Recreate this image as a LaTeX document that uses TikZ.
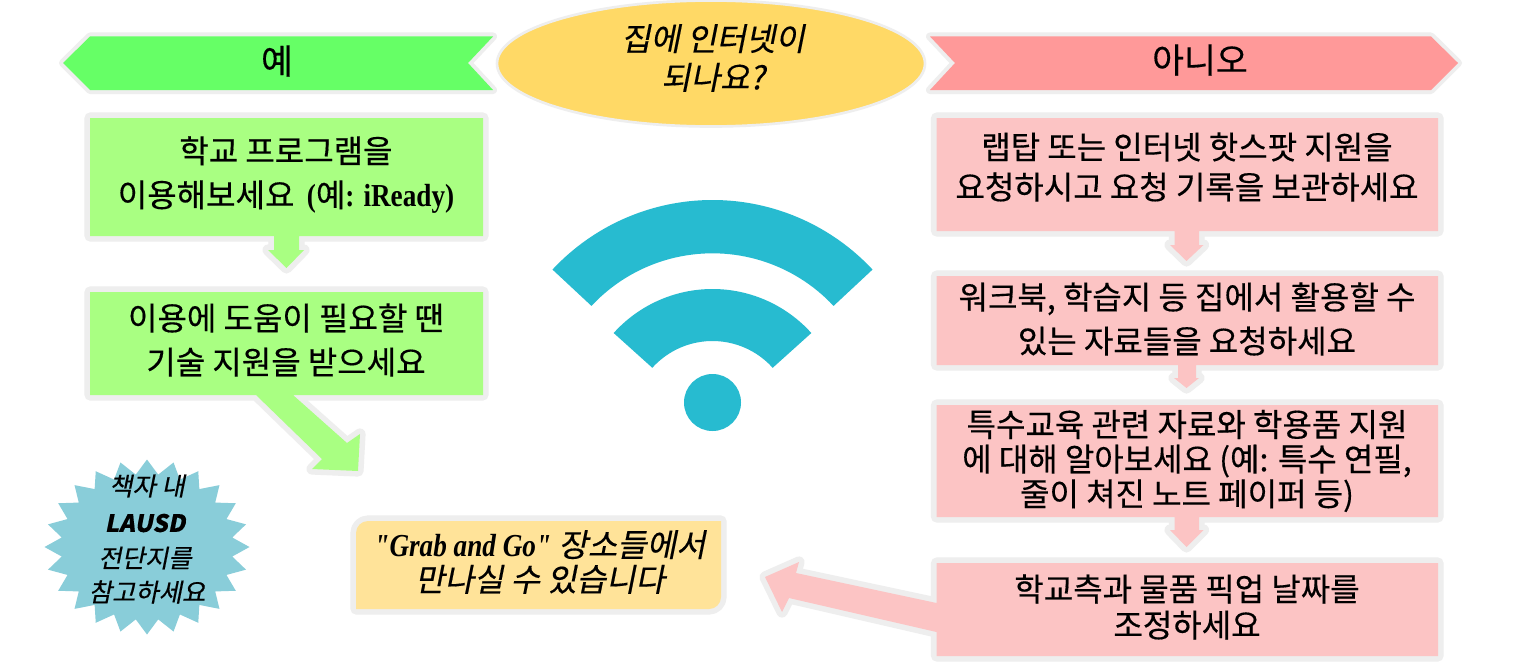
\documentclass[tikz,border=0pt]{standalone}
\usepackage{fontspec}
\setmainfont{Liberation Serif}
\newfontfamily\kr[FakeBold=0.4]{Noto Sans CJK KR}
\newfontfamily\krit[FakeSlant=0.2,FakeBold=0.4]{Noto Sans CJK KR}
\newfontfamily\latn[FakeStretch=0.85]{Liberation Serif}
\definecolor{edgegray}{HTML}{EEEEEE}
\definecolor{gfill}{HTML}{A9FF82}
\definecolor{gbright}{HTML}{66FF66}
\definecolor{rbright}{HTML}{FF9999}
\definecolor{rfill}{HTML}{FCC4C4}
\definecolor{yfill}{HTML}{FFD966}
\definecolor{ybox}{HTML}{FFE399}
\definecolor{starc}{HTML}{89CDD9}
\definecolor{wific}{HTML}{27BBD0}
\tikzset{
 x=0.75pt,y=-0.75pt,
 thickedge/.style={preaction={draw=edgegray,line width=8.4pt,line join=round}},
 thinedge/.style={preaction={draw=edgegray,line width=6pt,line join=round}},
 lab/.style={align=center,font=\kr\fontsize{24}{33}\selectfont,text=black,inner sep=0pt},
 labit/.style={align=center,font=\krit\fontsize{24}{26}\selectfont,text=black,inner sep=0pt},
 starit/.style={align=center,font=\krit\fontsize{19}{26}\selectfont,text=black,inner sep=0pt},
}
\begin{document}
\begin{tikzpicture}
\useasboundingbox (0,0) rectangle (1519,667);
\fill[white] (0,0) rectangle (1519,667);
% wifi
\fill[wific] (712.5,418.8) ++(-137:218.8) arc[start angle=-137,end angle=-43,radius=218.8] -- ++(137:53.3) arc[start angle=-43,end angle=-137,radius=165.5] -- cycle;
\fill[wific] (712.5,422) ++(-138:133) arc[start angle=-138,end angle=-42,radius=133] -- ++(138:52) arc[start angle=-42,end angle=-138,radius=81] -- cycle;
\fill[wific] (712.5,402.5) circle[radius=28.5];
% top
\path[thinedge,fill=gbright] (63,63) -- (90,36.5) -- (493,36.5) -- (468,63) -- (493,90) -- (90,90) -- cycle;
\node[lab,font=\kr\fontsize{26}{33}\selectfont] (yes) at (277,61) {예};
\path[draw=edgegray,line width=2pt,fill=yfill] (711,63.5) ellipse[x radius=214,y radius=63];
\node[labit,font=\krit\fontsize{24}{29}\selectfont] (q) at (713,58) {집에 인터넷이\\되나요?};
\path[thinedge,fill=rbright] (930,36.5) -- (1431,36.5) -- (1458,63) -- (1431,90) -- (930,90) -- (955,63) -- cycle;
\node[lab,font=\kr\fontsize{26}{33}\selectfont] (no) at (1200,60) {아니오};
% left column
\path[thickedge,fill=gfill] (90,118) -- (483,118) -- (483,236) -- (299,236) -- (299,250) -- (304,250) -- (286.5,268) -- (268,250) -- (274,250) -- (274,236) -- (90,236) -- cycle;
\node[lab] (g1a) at (286,175) {학교 프로그램을\\이용해보세요 \,{\latn\bfseries(}예{\latn\bfseries: iReady)}};
\path[thickedge,fill=gfill] (90,292) -- (483,292) -- (483,395) -- (293,395) -- (347,443) -- (360,434) -- (358,471) -- (312,469) -- (322,459) -- (256,395) -- (90,395) -- cycle;
\node[lab] (g2a) at (286,340) {이용에 도움이 필요할 땐\\기술 지원을 받으세요};
% star
\fill[starc] plot[samples at={0,...,47}] ({147+(mod(\x,2)==0?102.5:86)*cos(\x*7.5)},{547+(mod(\x,2)==0?87.5:73)*sin(\x*7.5)}) -- cycle;
\node[starit] (s1) at (147,486) {책자 내};
\node[starit,font=\krit\bfseries\fontsize{18}{26}\selectfont] (s2) at (145,523) {LAUSD};
\node[starit] (s3) at (145,558) {전단지를};
\node[starit] (s4) at (147,592) {참고하세요};
% yellow
\path[thickedge,fill=ybox] (368,521) -- (721,521) -- (721,597) arc[start angle=0,end angle=90,radius=12] -- (356,609) -- (356,533) arc[start angle=180,end angle=270,radius=12] -- cycle;
\node[labit] (gg) at (540,562) {{\latn\bfseries\itshape\char34 Grab and Go\char34} 장소들에서\\만나실 수 있습니다};
% right column
\path[thickedge,fill=rfill] (936.5,118) -- (1438,118) -- (1438,231) -- (1199,231) -- (1199,245) -- (1203.5,245) -- (1186.5,261) -- (1170,245) -- (1174.5,245) -- (1174.5,231) -- (936.5,231) -- cycle;
\node[lab,font=\kr\fontsize{24}{30}\selectfont] (r1a) at (1187,167) {랩탑 또는 인터넷 핫스팟 지원을\\요청하시고 요청 기록을 보관하세요};
\path[thickedge,fill=rfill] (936.5,276) -- (1438,276) -- (1438,365) -- (1196,365) -- (1196,378) -- (1199,378) -- (1186.5,388) -- (1174,378) -- (1178,378) -- (1178,365) -- (936.5,365) -- cycle;
\node[lab] (r2a) at (1187,319) {워크북, 학습지 등 집에서 활용할 수\\있는 자료들을 요청하세요};
\path[thickedge,fill=rfill] (936.5,405) -- (1438,405) -- (1438,517) -- (1199,517) -- (1199,530) -- (1203.5,530) -- (1186.5,547) -- (1170,530) -- (1174.5,530) -- (1174.5,517) -- (936.5,517) -- cycle;
\node[lab,font=\kr\fontsize{24}{26}\selectfont] (r3a) at (1187,461) {특수교육 관련 자료와 학용품 지원\\에 대해 알아보세요 (예: 특수 연필,\\줄이 쳐진 노트 페이퍼 등)};
\path[thickedge,fill=rfill] (936.5,563) -- (1438,563) -- (1438,656) -- (936.5,656) -- (936.5,632) -- (789,598) -- (782,612) -- (765,577) -- (799,562) -- (796,573) -- (936.5,603) -- cycle;
\node[lab,font=\kr\fontsize{24}{27}\selectfont] (r4a) at (1187,607) {학교측과 물품 픽업 날짜를\\조정하세요};
\end{tikzpicture}
\end{document}
